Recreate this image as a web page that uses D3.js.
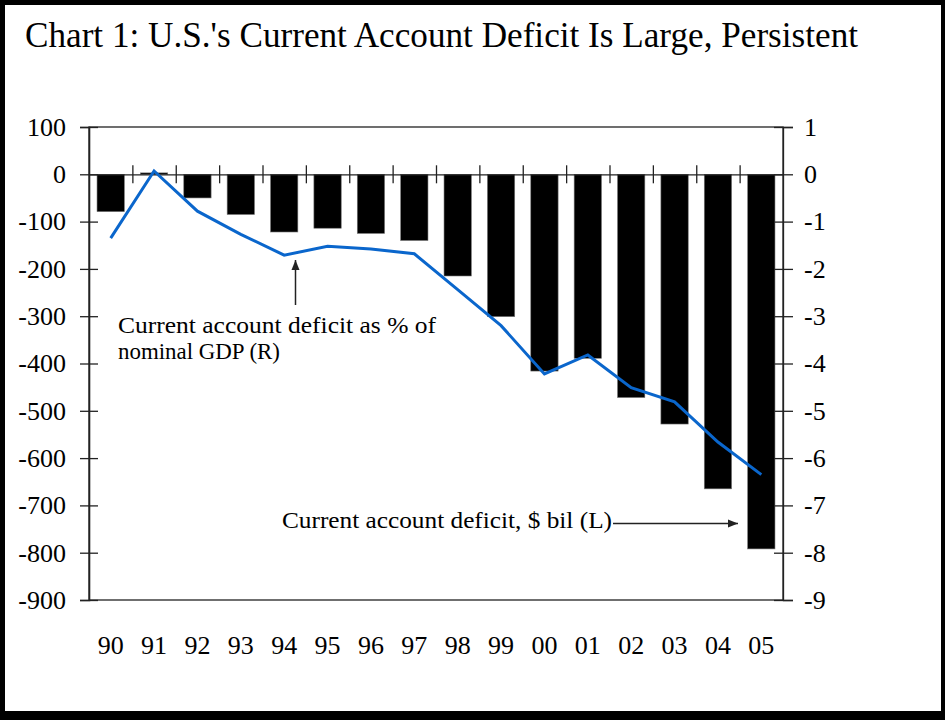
<!DOCTYPE html>
<html>
<head>
<meta charset="utf-8">
<script src="https://cdn.jsdelivr.net/npm/d3@7"></script>
<style>
  body { margin: 0; background: #fff; }
  svg text { font-family: "Palatino Linotype", "Book Antiqua", Palatino, "Liberation Serif", serif; fill: #000; }
</style>
</head>
<body>
<script>
// data
var years = ["90", "91", "92", "93", "94", "95", "96", "97", "98", "99", "00", "01", "02", "03", "04", "05"];
var deficitBil = [-79, 3, -50, -85, -122, -114, -125, -140, -215, -301, -416, -389, -472, -528, -665, -792];
var deficitPctGdp = [-1.35, 0.07, -0.78, -1.27, -1.71, -1.52, -1.58, -1.68, -2.44, -3.2, -4.22, -3.82, -4.51, -4.81, -5.66, -6.35];
var leftTicks = [100, 0, -100, -200, -300, -400, -500, -600, -700, -800, -900];
var rightTicks = [1, 0, -1, -2, -3, -4, -5, -6, -7, -8, -9];

var width = 945, height = 720;
var plotLeft = 89, plotRight = 783, plotTop = 127, plotBottom = 600;

// plain hyphen for negatives, like the original
var plainFmt = function(d) { return String(d); };

var svg = d3.select("body").append("svg")
	.attr("width", width)
	.attr("height", height);

// outer black frame
svg.append("rect").attr("x", 0).attr("y", 0).attr("width", width).attr("height", height).attr("fill", "#000");
svg.append("rect").attr("x", 5).attr("y", 5).attr("width", 936).attr("height", 706).attr("fill", "#fff");

svg.append("text")
	.attr("x", 25)
	.attr("y", 47)
	.attr("font-size", 36)
	.attr("textLength", 833)
	.attr("lengthAdjust", "spacingAndGlyphs")
	.text("Chart 1: U.S.'s Current Account Deficit Is Large, Persistent");

var x = d3.scaleBand()
	.domain(years)
	.range([plotLeft, plotRight])
	.paddingInner(0.37)
	.paddingOuter(0.185);

var xIdx = d3.scaleLinear().domain([0, years.length]).range([plotLeft, plotRight]);

var yL = d3.scaleLinear().domain([-900, 100]).range([plotBottom, plotTop]);
var yR = d3.scaleLinear().domain([-9, 1]).range([plotBottom, plotTop]);

// plot box
svg.append("rect")
	.attr("x", plotLeft).attr("y", plotTop)
	.attr("width", plotRight - plotLeft).attr("height", plotBottom - plotTop)
	.attr("fill", "none")
	.attr("stroke", "#222")
	.attr("stroke-width", 1.3);

// bars
svg.append("g").selectAll("rect")
	.data(deficitBil)
	.enter().append("rect")
	.attr("x", function(d, i) { return x(years[i]); })
	.attr("width", x.bandwidth())
	.attr("y", function(d) { return yL(Math.max(0, d)); })
	.attr("height", function(d) { return Math.abs(yL(d) - yL(0)); })
	.attr("fill", "#000")
	.attr("stroke", "#777")
	.attr("stroke-width", 0.6);

// zero line with category separators
var zeroAxis = svg.append("g")
	.attr("transform", "translate(0," + yL(0) + ")")
	.call(d3.axisBottom(xIdx).tickValues(d3.range(1, years.length)).tickSize(9).tickSizeOuter(0).tickFormat(""));
zeroAxis.select(".domain").attr("stroke", "#222").attr("stroke-width", 1.3);
zeroAxis.selectAll(".tick line").attr("y1", -9).attr("stroke", "#222").attr("stroke-width", 1.3);

// left axis
var axL = svg.append("g")
	.attr("transform", "translate(" + plotLeft + ",0)")
	.call(d3.axisLeft(yL).tickValues(leftTicks).tickFormat(plainFmt).tickSize(9).tickPadding(14));
axL.select(".domain").attr("stroke", "#222").attr("stroke-width", 1.6);
axL.selectAll(".tick line").attr("x1", 9).attr("stroke", "#222").attr("stroke-width", 1.3);
axL.selectAll("text").attr("font-size", 26).attr("font-family", null);

// right axis
var axR = svg.append("g")
	.attr("transform", "translate(" + plotRight + ",0)")
	.call(d3.axisRight(yR).tickValues(rightTicks).tickFormat(plainFmt).tickSize(10).tickPadding(11));
axR.select(".domain").attr("stroke", "#222").attr("stroke-width", 1.3);
axR.selectAll(".tick line").attr("x1", -9).attr("stroke", "#222").attr("stroke-width", 1.3);
axR.selectAll("text").attr("font-size", 26).attr("font-family", null);

// year labels
var axB = svg.append("g")
	.attr("transform", "translate(0," + plotBottom + ")")
	.call(d3.axisBottom(x).tickSize(0).tickPadding(36));
axB.select(".domain").remove();
axB.selectAll("text").attr("font-size", 26).attr("font-family", null);

// % of GDP line
var line = d3.line()
	.x(function(d, i) { return x(years[i]) + x.bandwidth() / 2; })
	.y(function(d) { return yR(d); });

svg.append("path")
	.datum(deficitPctGdp)
	.attr("d", line)
	.attr("fill", "none")
	.attr("stroke", "#0A66CC")
	.attr("stroke-width", 3)
	.attr("stroke-linejoin", "miter");

// annotations
var defs = svg.append("defs");
defs.append("marker")
	.attr("id", "arrow")
	.attr("viewBox", "0 0 10 10")
	.attr("refX", 10).attr("refY", 5)
	.attr("markerWidth", 10).attr("markerHeight", 10)
	.attr("markerUnits", "userSpaceOnUse")
	.attr("orient", "auto")
	.append("path")
	.attr("d", "M0,1 L10,5 L0,9 Z")
	.attr("fill", "#222");

svg.append("line")
	.attr("x1", 295.5).attr("y1", 305)
	.attr("x2", 295.5).attr("y2", 260)
	.attr("stroke", "#222").attr("stroke-width", 1.5)
	.attr("marker-end", "url(#arrow)");

svg.append("text").attr("x", 118).attr("y", 333).attr("font-size", 23)
	.attr("textLength", 318).attr("lengthAdjust", "spacingAndGlyphs")
	.text("Current account deficit as % of");
svg.append("text").attr("x", 118).attr("y", 359).attr("font-size", 23)
	.attr("textLength", 162).attr("lengthAdjust", "spacingAndGlyphs")
	.text("nominal GDP (R)");

svg.append("text").attr("x", 282).attr("y", 528).attr("font-size", 23)
	.attr("textLength", 330).attr("lengthAdjust", "spacingAndGlyphs")
	.text("Current account deficit, $ bil (L)");

svg.append("line")
	.attr("x1", 613).attr("y1", 523.5)
	.attr("x2", 738).attr("y2", 523.5)
	.attr("stroke", "#222").attr("stroke-width", 1.5)
	.attr("marker-end", "url(#arrow)");
</script>
</body>
</html>
